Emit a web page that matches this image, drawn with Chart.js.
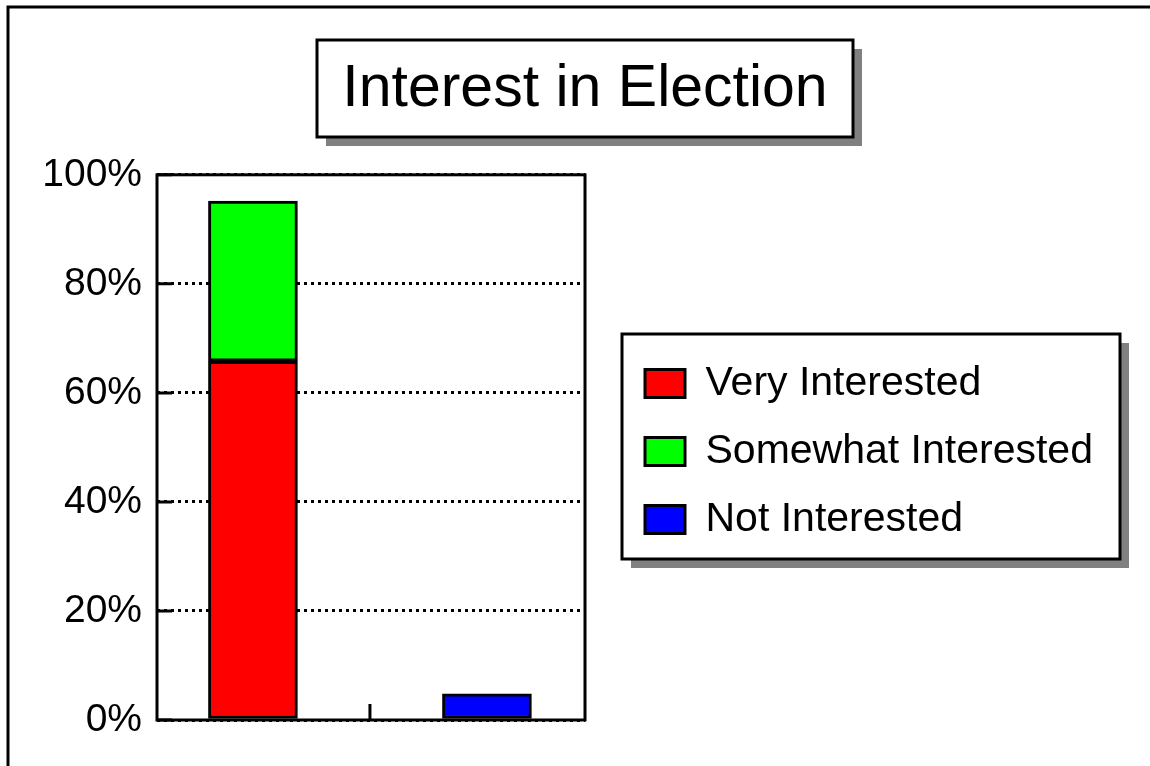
<!DOCTYPE html>
<html>
<head>
<meta charset="utf-8">
<script src="https://cdn.jsdelivr.net/npm/chart.js@4"></script>
<style>
  html, body { margin: 0; padding: 0; background: #fff; }
</style>
</head>
<body>
<canvas id="myChart" width="1150" height="766"></canvas>
<script>

let categories = ['Interested', 'Not Interested'];
let seriesNames = ['Very Interested', 'Somewhat Interested', 'Not Interested'];
let seriesColors = ['#ff0000', '#00ff00', '#0000ff'];
let veryInterested = [65.8, null];
let somewhatInterested = [29.4, null];
let notInterested = [null, 4.8];
let yTickValues = [0, 20, 40, 60, 80, 100];

Chart.defaults.font.family = "'Liberation Sans', Arial, sans-serif";
Chart.defaults.color = '#000';

function boxWithShadow(ctx, x, y, w, h, off) {
  ctx.fillStyle = '#808080';
  ctx.fillRect(x + off, y + off, w, h);
  ctx.fillStyle = '#fff';
  ctx.fillRect(x, y, w, h);
  ctx.strokeStyle = '#000';
  ctx.lineWidth = 3;
  ctx.strokeRect(x, y, w, h);
}

const decor = {
  id: 'decor',
  beforeDraw(chart) {
    let ctx = chart.ctx;
    ctx.save();
    ctx.fillStyle = '#fff';
    ctx.fillRect(0, 0, chart.width, chart.height);
    ctx.strokeStyle = '#000';
    ctx.lineWidth = 3;
    ctx.beginPath();
    ctx.moveTo(8, chart.height);
    ctx.lineTo(8, 7);
    ctx.lineTo(chart.width, 7);
    ctx.stroke();
    boxWithShadow(ctx, 317, 40, 536, 97, 9);
    boxWithShadow(ctx, 622, 334, 498, 225, 9);
    ctx.restore();

    // move the legend into its box (keep its fitted height)
    let lg = chart.legend;
    lg.left = 618;
    lg.top = 336;
    lg.width = 500;
    lg.right = lg.left + lg.width;
    lg.bottom = lg.top + lg.height;
  },
  afterDraw(chart) {
    let ctx = chart.ctx;
    let a = chart.chartArea;
    let x = chart.scales.x;
    let y = chart.scales.y;
    ctx.save();
    ctx.strokeStyle = '#000';
    ctx.lineWidth = 3;
    ctx.strokeRect(a.left, a.top, a.right - a.left, a.bottom - a.top);
    ctx.beginPath();
    for (let i = 0; i < y.ticks.length; i++) {
      let py = y.getPixelForTick(i);
      ctx.moveTo(a.left, py);
      ctx.lineTo(a.left + 15, py);
    }
    let mid = (x.getPixelForValue(0) + x.getPixelForValue(1)) / 2;
    ctx.moveTo(mid, a.bottom);
    ctx.lineTo(mid, a.bottom - 16);
    ctx.stroke();
    ctx.restore();
  }
};

const seriesData = [veryInterested, somewhatInterested, notInterested];

const data = {
  datasets: seriesNames.map((name, s) => ({
    label: name,
    data: categories.map((c, i) => ({ x: i, y: seriesData[s][i] })),
    backgroundColor: seriesColors[s],
    borderColor: '#000',
    borderWidth: 3,
    borderSkipped: false,
    barThickness: 89
  }))
};

const config = {
  type: 'bar',
  data: data,
  options: {
    responsive: false,
    animation: false,
    layout: { padding: { left: 20, top: 54, right: 0, bottom: 0 } },
    plugins: {
      title: {
        display: true,
        text: 'Interest in Election',
        color: '#000',
        font: { size: 59, weight: 'normal' },
        padding: { top: 0, bottom: 50 }
      },
      legend: {
        position: 'chartArea',
        align: 'start',
        labels: {
          color: '#000',
          font: { size: 41 },
          boxWidth: 40,
          boxHeight: 28,
          padding: 27
        }
      },
      tooltip: { enabled: false }
    },
    scales: {
      x: {
        type: 'linear',
        stacked: true,
        min: -0.41,
        max: 1.419,
        afterBuildTicks(s) { s.ticks = []; },
        ticks: { display: false },
        grid: { display: false },
        border: { display: false },
        afterFit(s) { s.height = 46; }
      },
      y: {
        stacked: true,
        min: 0,
        max: 100,
        afterBuildTicks(s) { s.ticks = yTickValues.map(v => ({ value: v })); },
        ticks: {
          padding: 15,
          font: { size: 39 },
          color: '#000',
          callback: v => v + '%'
        },
        grid: { color: '#000', lineWidth: 3, drawTicks: false },
        border: { display: false, dash: [3, 4] },
        afterFit(s) { s.width = 137; }
      },
      side: {
        position: 'right',
        ticks: { display: false },
        grid: { display: false },
        border: { display: false },
        afterFit(s) { s.width = 565; }
      }
    }
  },
  plugins: [decor]
};

let canvasChart = document.getElementById('myChart');
new Chart(canvasChart, config);
</script>
</body>
</html>
